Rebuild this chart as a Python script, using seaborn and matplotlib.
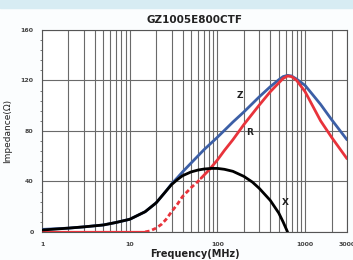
import numpy as np
import pandas as pd
import matplotlib
matplotlib.use("Agg")
import matplotlib.pyplot as plt
import seaborn as sns
from matplotlib.ticker import LogLocator, NullFormatter, FixedLocator, MultipleLocator

# values (frequency in MHz, impedance in ohm)
freq_z = [1, 2, 3, 5, 7, 10, 15, 20, 25, 30, 35, 40, 50, 70, 100, 150, 200, 300, 400,
          500, 560, 630, 700, 800, 1000, 1500, 2000, 3000]
imp_z = [2, 3, 4, 5.5, 7.5, 10, 16, 23, 31, 38, 43, 47.5, 54.5, 65, 75, 87, 95, 107, 115,
         120.5, 123, 124, 123.5, 121, 116, 101, 89, 73]

freq_x = [1, 2, 3, 5, 7, 10, 15, 20, 25, 30, 35, 40, 50, 60, 70, 85, 100, 120, 150, 200,
          250, 300, 400, 500, 560, 630]
imp_x = [1.5, 3, 4, 5.5, 7.5, 10, 16, 23, 31, 37.5, 41.5, 44.5, 47.5, 49, 49.8, 50.3, 50.3,
         49.6, 48, 44, 39.5, 34.5, 25, 15, 8, 0]

freq_r_low = [1, 15]
imp_r_low = [0, 0]
freq_r_dash = [15, 17, 20, 23, 26, 30, 35, 40, 50, 60, 65]
imp_r_dash = [0, 0.8, 3, 6, 10, 16, 22, 28, 35, 40, 42.5]
freq_r = [65, 80, 100, 120, 150, 200, 300, 400, 500, 560, 630, 700, 800, 1000, 1500, 2000, 3000]
imp_r = [42.5, 49, 57, 64.5, 73, 85, 100.5, 111, 118, 121.5, 123.5, 123, 120, 111, 88, 75, 58]

sns.set_style("white")
fig = plt.figure(figsize=(3.53, 2.60), dpi=100)
fig.patch.set_facecolor("#fbfdfe")
# light blue strip across the top
fig.patches.append(plt.Rectangle((0, 0.97), 1, 0.03, transform=fig.transFigure,
                                 color="#d7ecf3", zorder=0))

ax = fig.add_axes([0.119, 0.108, 0.864, 0.777])
ax.set_facecolor("white")

blue = "#3c5fa6"
red = "#e8333b"

sns.lineplot(x=freq_z, y=imp_z, ax=ax, color=blue, lw=2.0, zorder=3)
sns.lineplot(x=freq_r_low, y=imp_r_low, ax=ax, color=red, lw=1.6, zorder=3)
sns.lineplot(x=freq_r_dash, y=imp_r_dash, ax=ax, color=red, lw=2.0, zorder=3,
             linestyle=(0, (1.6, 1.0)))
sns.lineplot(x=freq_r, y=imp_r, ax=ax, color=red, lw=2.0, zorder=3)
sns.lineplot(x=freq_x, y=imp_x, ax=ax, color="black", lw=2.0, zorder=4)

ax.set_xscale("log")
ax.set_xlim(1, 3000)
ax.set_ylim(0, 160)

# grid: every decade line plus minor lines, horizontal at 40s
ax.xaxis.set_major_locator(FixedLocator([1, 10, 100, 1000, 3000]))
ax.xaxis.set_minor_locator(LogLocator(base=10, subs=np.arange(2, 10), numticks=20))
ax.xaxis.set_minor_formatter(NullFormatter())
ax.set_xticklabels(["1", "10", "100", "1000", "3000"])
ax.yaxis.set_major_locator(MultipleLocator(40))
ax.yaxis.set_minor_locator(MultipleLocator(8))
ax.grid(True, which="both", axis="x", color="#6a6a6a", lw=0.8)
ax.grid(True, which="major", axis="y", color="#6a6a6a", lw=0.8)
for s in ax.spines.values():
    s.set_color("#555555")
    s.set_linewidth(0.8)

ax.tick_params(axis="both", which="major", labelsize=4.5, colors="#444444", length=3, width=0.6, pad=3)
ax.tick_params(axis="x", which="major", pad=7)
ax.tick_params(axis="y", which="minor", length=1.5, width=0.5, colors="#444444", left=True)
ax.tick_params(axis="x", which="minor", length=0)
ax.tick_params(axis="x", which="major", length=0)
for lab in ax.get_xticklabels() + ax.get_yticklabels():
    lab.set_fontweight("bold")

ax.set_xlabel("Frequency(MHz)", fontsize=7, fontweight="bold", color="#222222", labelpad=2)
ax.set_ylabel("Impedance(Ω)", fontsize=6.5, color="#222222", labelpad=6)
ax.set_title("GZ1005E800CTF", fontsize=7.5, fontweight="bold", color="#222222", pad=5)

lab_kw = dict(fontsize=6.5, fontweight="bold", color="#222222", zorder=5, ha="center", va="center")
ax.text(182, 108, "Z", **lab_kw)
ax.text(230, 79, "R", **lab_kw)
ax.text(590, 23, "X", **lab_kw)

fig.savefig("out.png", dpi=100)
